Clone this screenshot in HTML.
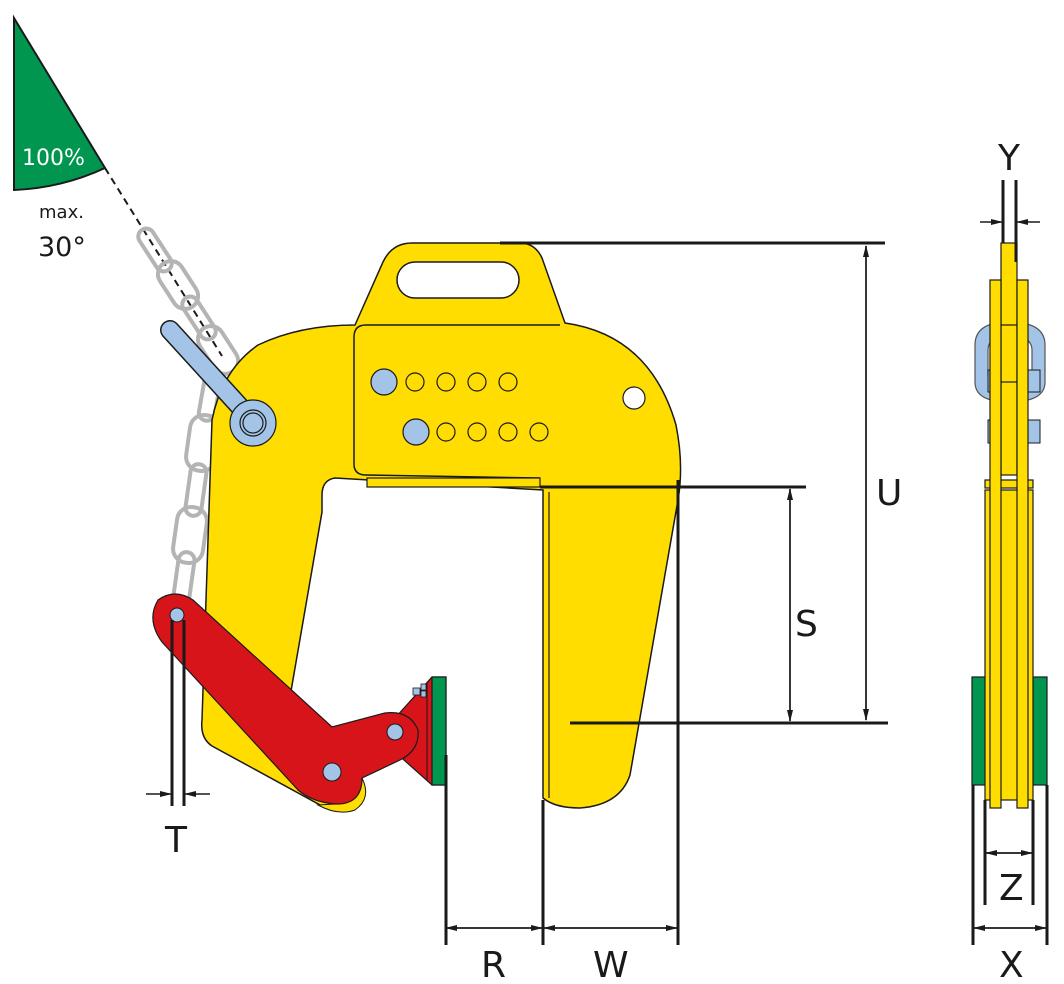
<!DOCTYPE html>
<html><head><meta charset="utf-8"><style>
html,body{margin:0;padding:0;background:#fff;}
svg{display:block}
text{font-family:"DejaVu Sans","Liberation Sans",sans-serif;fill:#1a1a1a}
</style></head><body>
<svg width="1064" height="984" viewBox="0 0 1064 984" xmlns="http://www.w3.org/2000/svg">
<defs>
<marker id="a" markerWidth="12" markerHeight="8" refX="11" refY="4" orient="auto" markerUnits="userSpaceOnUse"><path d="M0,1 L12,4 L0,7 Z" fill="#1a1a1a"/></marker>
</defs>
<path d="M14,18 L105,168 Q62,188 14,190 Z" fill="#009650" stroke="#1a1a1a" stroke-width="2"/>
<text x="22" y="165" font-size="22" style="fill:#fff">100%</text>
<text x="39" y="218" font-size="18">max.</text>
<text x="38" y="256" font-size="27">30°</text>
<line x1="105" y1="168" x2="222" y2="356" stroke="#1a1a1a" stroke-width="2" stroke-dasharray="7,5"/>

<g fill="none" stroke="#b4b4b4" stroke-width="4">
<rect x="-8" y="-24" width="16" height="48" rx="8" transform="translate(155,250) rotate(-33)"/>
<rect x="-13" y="-26" width="26" height="52" rx="13" transform="translate(178,285) rotate(-33)"/>
<rect x="-8" y="-24" width="16" height="48" rx="8" transform="translate(199,318) rotate(-33)"/>
<rect x="-13" y="-26" width="26" height="52" rx="13" transform="translate(218,350) rotate(-33)"/>
<rect x="-8" y="-26" width="16" height="52" rx="8" transform="translate(210,395) rotate(10)"/>
<rect x="-15" y="-28" width="30" height="56" rx="14" transform="translate(203,443) rotate(8)"/>
<rect x="-8" y="-26" width="16" height="52" rx="8" transform="translate(196,490) rotate(8)"/>
<rect x="-15" y="-28" width="30" height="56" rx="14" transform="translate(190,535) rotate(8)"/>
<rect x="-8" y="-26" width="16" height="52" rx="8" transform="translate(184,578) rotate(8)"/>
</g>

<path d="M355,325 L383,262 Q392,243 412,243 L520,243 Q535,243 542,258 L565,323 Q650,335 676,425 Q684,465 678,500 L630,775 Q620,805 580,808 Q555,808 543,798 L543,490 L335,478 Q322,480 322,495 L322,512 L286,720 L365,790 Q352,812 322,806 L212,746 Q200,738 202,720 L212,420 Q222,370 258,345 Q300,325 355,325 Z" fill="#ffdd00" stroke="#1a1a1a" stroke-width="1.5"/>
<path d="M560,325 L366,325 Q354,325 354,337 L354,464 Q354,475 366,475 L540,478" fill="none" stroke="#1a1a1a" stroke-width="1.5"/>
<rect x="367" y="478" width="173" height="9" fill="#ffdd00" stroke="#1a1a1a" stroke-width="1.2"/>
<line x1="549" y1="492" x2="549" y2="798" stroke="#1a1a1a" stroke-width="1.2"/>
<rect x="397" y="262" width="122" height="36" rx="18" fill="#fff" stroke="#1a1a1a" stroke-width="1.5"/>
<g stroke="#1a1a1a" stroke-width="1.2">
<circle cx="384" cy="382" r="13" fill="#a3c4e6"/>
<circle cx="416" cy="432" r="13" fill="#a3c4e6"/>
<g fill="none">
<circle cx="415" cy="382" r="9"/><circle cx="446" cy="382" r="9"/><circle cx="477" cy="382" r="9"/><circle cx="508" cy="382" r="9"/>
<circle cx="446" cy="432" r="9"/><circle cx="477" cy="432" r="9"/><circle cx="508" cy="432" r="9"/><circle cx="539" cy="432" r="9"/>
</g>
<circle cx="634" cy="398" r="11" fill="#fff"/>
</g>

<line x1="170" y1="330" x2="252" y2="420" stroke="#1a1a1a" stroke-width="20" stroke-linecap="round"/>
<line x1="170" y1="330" x2="252" y2="420" stroke="#a3c4e6" stroke-width="17" stroke-linecap="round"/>
<circle cx="253" cy="423" r="23" fill="#a3c4e6" stroke="#1a1a1a" stroke-width="1.2"/>
<circle cx="253" cy="423" r="13" fill="none" stroke="#1a1a1a" stroke-width="1.2"/>
<circle cx="253" cy="423" r="10" fill="none" stroke="#1a1a1a" stroke-width="1.2"/>

<path d="M395,718 L432,677 L446,677 L446,785 L432,785 L395,752 Z" fill="#d7141a" stroke="#1a1a1a" stroke-width="1.2"/>
<rect x="432" y="677" width="14" height="108" fill="#009650" stroke="#1a1a1a" stroke-width="1.2"/>
<line x1="427" y1="682" x2="427" y2="780" stroke="#1a1a1a" stroke-width="1"/>
<rect x="413" y="688" width="7" height="7" fill="#a3c4e6" stroke="#1a1a1a" stroke-width="0.8"/>
<rect x="421" y="684" width="5" height="6" fill="#a3c4e6" stroke="#1a1a1a" stroke-width="0.8"/>
<rect x="421" y="691" width="5" height="6" fill="#a3c4e6" stroke="#1a1a1a" stroke-width="0.8"/>
<path d="M362,778 Q372,798 355,810 Q338,816 318,805 L335,804 Q358,800 362,778 Z" fill="#ffdd00" stroke="#1a1a1a" stroke-width="1"/>
<path d="M158,600 Q175,588 193,600 L332,727 L385,713 Q410,710 418,730 Q420,750 400,760 L362,778 Q362,805 335,804 Q312,802 298,790 L162,642 Q146,620 158,600 Z" fill="#d7141a" stroke="#1a1a1a" stroke-width="1.2"/>
<g fill="#a3c4e6" stroke="#1a1a1a" stroke-width="1">
<circle cx="177" cy="615" r="7"/><circle cx="395" cy="732" r="8"/><circle cx="332" cy="772" r="9"/>
</g>

<g stroke="#1a1a1a" stroke-width="3" fill="none">
<line x1="500" y1="243" x2="885" y2="243"/>
<line x1="570" y1="723" x2="888" y2="723"/>
<line x1="540" y1="487" x2="806" y2="487"/>
<line x1="678" y1="480" x2="678" y2="945"/>
<line x1="446" y1="755" x2="446" y2="945"/>
<line x1="543" y1="800" x2="543" y2="945"/>
<line x1="172" y1="620" x2="172" y2="806"/>
<line x1="184" y1="620" x2="184" y2="806"/>
</g>
<g stroke="#1a1a1a" stroke-width="1.5" fill="none">
<path d="M866,246 L866,720" marker-end="url(#a)"/><path d="M866,720 L866,246" marker-end="url(#a)"/>
<path d="M790,489 L790,721" marker-end="url(#a)"/><path d="M790,721 L790,489" marker-end="url(#a)"/>
<path d="M446,928 L542,928" marker-end="url(#a)"/><path d="M542,928 L446,928" marker-end="url(#a)"/>
<path d="M544,928 L677,928" marker-end="url(#a)"/><path d="M677,928 L544,928" marker-end="url(#a)"/>
<path d="M146,794 L171,794" marker-end="url(#a)"/><path d="M210,794 L185,794" marker-end="url(#a)"/>
</g>
<text x="876" y="505" font-size="36">U</text>
<text x="795" y="636" font-size="36">S</text>
<text x="481" y="977" font-size="36">R</text>
<text x="593" y="977" font-size="36">W</text>
<text x="165" y="852" font-size="36">T</text>

<path d="M975,345 Q975,322 1009,322 Q1045,322 1045,345 L1045,382 Q1045,402 1009,402 Q975,402 975,382 Z M988,350 L988,375 Q988,388 1009,388 Q1032,388 1032,375 L1032,350 Q1032,336 1009,336 Q988,336 988,350 Z" fill="#a3c4e6" stroke="#555" stroke-width="1.2" fill-rule="evenodd"/>
<rect x="988" y="370" width="52" height="22" fill="#a3c4e6" stroke="#1a1a1a" stroke-width="1"/>
<rect x="988" y="420" width="52" height="23" fill="#a3c4e6" stroke="#1a1a1a" stroke-width="1"/>
<rect x="972" y="677" width="14" height="108" fill="#009650" stroke="#1a1a1a" stroke-width="1.2"/>
<rect x="1033" y="677" width="14" height="108" fill="#009650" stroke="#1a1a1a" stroke-width="1.2"/>
<rect x="985" y="480" width="48" height="8" fill="#ffdd00" stroke="#1a1a1a" stroke-width="1.2"/>
<rect x="985" y="490" width="48" height="310" fill="#ffdd00" stroke="#1a1a1a" stroke-width="1.2"/>
<rect x="1001" y="243" width="16" height="232" fill="#ffdd00" stroke="#1a1a1a" stroke-width="1.2"/>
<rect x="1001" y="325" width="16" height="57" fill="#ffdd00" stroke="#1a1a1a" stroke-width="1.2"/>
<rect x="990" y="280" width="11" height="528" fill="#ffdd00" stroke="#1a1a1a" stroke-width="1.2"/>
<rect x="1017" y="280" width="11" height="528" fill="#ffdd00" stroke="#1a1a1a" stroke-width="1.2"/>
<g stroke="#1a1a1a" stroke-width="3">
<line x1="1003" y1="180" x2="1003" y2="243"/><line x1="1016" y1="180" x2="1016" y2="262"/>
<line x1="985" y1="800" x2="985" y2="905"/><line x1="1033" y1="800" x2="1033" y2="905"/>
<line x1="973" y1="785" x2="973" y2="945"/><line x1="1047" y1="785" x2="1047" y2="945"/>
</g>
<g stroke="#1a1a1a" stroke-width="1.5" fill="none">
<path d="M980,222 L1002,222" marker-end="url(#a)"/><path d="M1040,222 L1017,222" marker-end="url(#a)"/>
<path d="M986,853 L1032,853" marker-end="url(#a)"/><path d="M1032,853 L986,853" marker-end="url(#a)"/>
<path d="M974,928 L1046,928" marker-end="url(#a)"/><path d="M1046,928 L974,928" marker-end="url(#a)"/>
</g>
<text x="998" y="170" font-size="36">Y</text>
<text x="999" y="900" font-size="36">Z</text>
<text x="999" y="977" font-size="36">X</text>
</svg>
</body></html>
